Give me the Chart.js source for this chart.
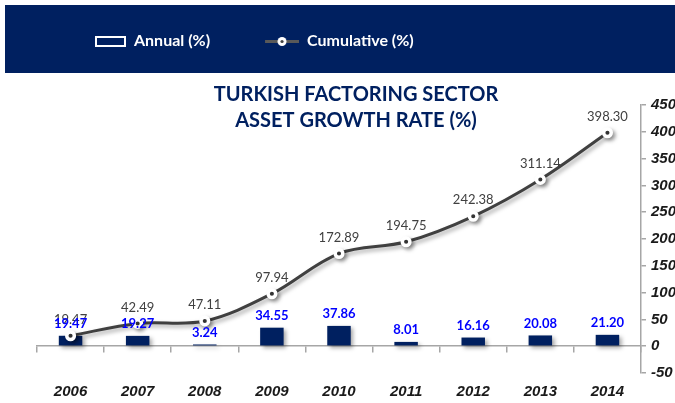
<!DOCTYPE html>
<html>
<head>
<meta charset="utf-8">
<script src="https://cdn.jsdelivr.net/npm/chart.js@4.4.1/dist/chart.umd.min.js"></script>
<style>
  html, body { margin: 0; padding: 0; background: #fff; }
  #wrap { width: 675px; height: 403px; position: relative; }
</style>
</head>
<body>
<div id="wrap"><canvas id="chart" width="675" height="403"></canvas></div>
<script>
const years = ['2006', '2007', '2008', '2009', '2010', '2011', '2012', '2013', '2014'];
const annual = [19.47, 19.27, 3.24, 34.55, 37.86, 8.01, 16.16, 20.08, 21.20];
const cumulative = [19.47, 42.49, 47.11, 97.94, 172.89, 194.75, 242.38, 311.14, 398.30];
const yMin = -50;
const yMax = 450;
const yStep = 50;

const NAVY = '#002060';
const LINE = '#404040';

// legend icons (box for bars, line+marker for the cumulative series)
function makeIcon(draw) {
  const c = document.createElement('canvas');
  c.width = 56;
  c.height = 14;
  draw(c.getContext('2d'));
  return c;
}
const barIcon = makeIcon(ctx => {
  ctx.fillStyle = NAVY;
  ctx.fillRect(26, 3, 29, 9);
  ctx.strokeStyle = '#fff';
  ctx.lineWidth = 2;
  ctx.strokeRect(26, 3, 29, 9);
});
const lineIcon = makeIcon(ctx => {
  ctx.strokeStyle = '#595959';
  ctx.lineWidth = 3;
  ctx.beginPath();
  ctx.moveTo(22, 7.5);
  ctx.lineTo(56, 7.5);
  ctx.stroke();
  ctx.fillStyle = '#fff';
  ctx.beginPath();
  ctx.arc(39, 7.5, 4.5, 0, Math.PI * 2);
  ctx.fill();
  ctx.fillStyle = LINE;
  ctx.beginPath();
  ctx.arc(39, 7.5, 1.6, 0, Math.PI * 2);
  ctx.fill();
});

const headerBand = {
  id: 'headerBand',
  beforeDraw(chart) {
    const ctx = chart.ctx;
    ctx.save();
    ctx.fillStyle = NAVY;
    ctx.fillRect(5, 5, chart.width - 5, 68);
    ctx.restore();
  }
};

const shadows = {
  id: 'shadows',
  beforeDatasetDraw(chart) {
    const ctx = chart.ctx;
    ctx.save();
    ctx.shadowColor = 'rgba(0,0,0,0.35)';
    ctx.shadowBlur = 4;
    ctx.shadowOffsetX = 2.5;
    ctx.shadowOffsetY = 2.5;
  },
  afterDatasetDraw(chart) {
    chart.ctx.restore();
  }
};

const valueLabels = {
  id: 'valueLabels',
  afterDatasetsDraw(chart) {
    const ctx = chart.ctx;
    ctx.save();
    ctx.textAlign = 'center';
    ctx.textBaseline = 'middle';
    // cumulative labels first, annual drawn on top
    const lineMeta = chart.getDatasetMeta(1);
    ctx.fillStyle = LINE;
    ctx.font = '13px Lato';
    lineMeta.data.forEach((pt, i) => {
      ctx.fillText(cumulative[i].toFixed(2), pt.x, pt.y - 16);
    });
    const barMeta = chart.getDatasetMeta(0);
    ctx.fillStyle = '#0000ff';
    ctx.font = 'bold 13px Lato';
    barMeta.data.forEach((bar, i) => {
      ctx.fillText(annual[i].toFixed(2), bar.x, bar.y - 12);
    });
    ctx.restore();
  }
};

new Chart(document.getElementById('chart'), {
  type: 'bar',
  data: {
    labels: years,
    datasets: [
      {
        type: 'bar',
        label: 'Annual (%)',
        data: annual,
        backgroundColor: NAVY,
        borderWidth: 0,
        barPercentage: 0.35,
        categoryPercentage: 1,
        order: 1
      },
      {
        type: 'line',
        label: 'Cumulative (%)',
        data: cumulative,
        borderColor: LINE,
        borderWidth: 3,
        tension: 0.35,
        pointRadius: 3.8,
        pointBorderWidth: 3.5,
        pointBackgroundColor: LINE,
        pointBorderColor: '#fff',
        pointHoverRadius: 4,
        order: 0
      }
    ]
  },
  options: {
    responsive: false,
    animation: false,
    devicePixelRatio: 1,
    layout: { padding: { left: 37, top: 0, right: 0, bottom: 30 } },
    plugins: {
      legend: {
        position: 'top',
        align: 'start',
        weight: 2000,
        labels: {
          usePointStyle: true,
          pointStyleWidth: 56,
          padding: 33,
          color: '#fff',
          font: { family: 'Lato', size: 16, weight: 'bold' },
          generateLabels: () => [
            { text: 'Annual (%)', pointStyle: barIcon, fontColor: '#fff', datasetIndex: 0, lineWidth: 0 },
            { text: 'Cumulative (%)', pointStyle: lineIcon, fontColor: '#fff', datasetIndex: 1, lineWidth: 0 }
          ]
        }
      },
      title: {
        display: true,
        weight: 500,
        text: ['TURKISH FACTORING SECTOR', 'ASSET GROWTH RATE (%)'],
        color: NAVY,
        font: { family: 'Lato', size: 20, weight: 'bold', lineHeight: 1.3 },
        padding: { top: 23, bottom: -29 }
      },
      tooltip: { enabled: false }
    },
    scales: {
      x: {
        position: { y: 0 },
        grid: { display: true, drawOnChartArea: false, offset: true, tickLength: 6, color: '#a6a6a6', lineWidth: 1.5 },
        border: { display: true, color: '#a6a6a6', width: 1.5 },
        ticks: {
          color: '#1a1a1a',
          padding: 31,
          font: { family: 'Liberation Sans', size: 15, weight: 'bold', style: 'italic' }
        }
      },
      y: {
        position: 'right',
        min: yMin,
        max: yMax,
        grid: { display: true, drawOnChartArea: false, tickLength: 5, color: '#a6a6a6', lineWidth: 1.5 },
        border: { display: true, color: '#a6a6a6', width: 1.5 },
        ticks: {
          stepSize: yStep,
          padding: 5,
          color: '#1a1a1a',
          font: { family: 'Liberation Sans', size: 15, weight: 'bold', style: 'italic' }
        },
        afterFit(scale) { scale.width = 34; }
      }
    }
  },
  plugins: [headerBand, shadows, valueLabels]
});
</script>
</body>
</html>
